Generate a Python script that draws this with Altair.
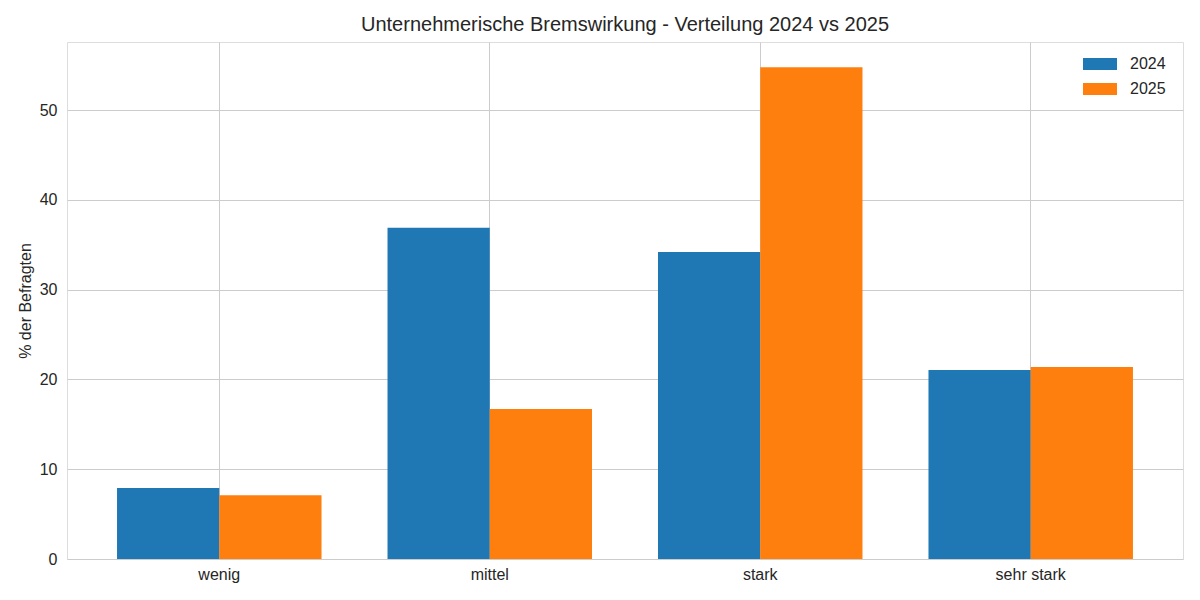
import altair as alt
import pandas as pd

categories = ["wenig", "mittel", "stark", "sehr stark"]
years = ["2024", "2025"]
values_2024 = [7.9, 36.9, 34.2, 21.05]
values_2025 = [7.1, 16.7, 54.8, 21.4]
y_ticks = [0, 10, 20, 30, 40, 50]

rows = []
for c, a, b in zip(categories, values_2024, values_2025):
    rows.append({"cat": c, "year": "2024", "val": a})
    rows.append({"cat": c, "year": "2025", "val": b})
df = pd.DataFrame(rows)

FONT = "Liberation Sans"
TXT = "#262626"
GRID = "#cccccc"

chart = alt.Chart(df).mark_bar().encode(
    x=alt.X("cat:N", sort=categories,
            scale=alt.Scale(paddingInner=0.244, paddingOuter=0.185),
            axis=alt.Axis(title=None, labelAngle=0, labelFontSize=16, labelColor=TXT,
                          labelFont=FONT, ticks=False, domain=False, grid=True,
                          gridColor=GRID, gridWidth=1, bandPosition=0.5, labelPadding=7)),
    xOffset=alt.XOffset("year:N", sort=years, scale=alt.Scale(paddingInner=0, paddingOuter=0)),
    y=alt.Y("val:Q", scale=alt.Scale(domain=[0, 57.6], nice=False, zero=True),
            axis=alt.Axis(title="% der Befragten", values=y_ticks, labelFontSize=16,
                          labelColor=TXT, labelFont=FONT, titleFont=FONT, titleFontSize=16,
                          titleColor=TXT, titleFontWeight="normal", ticks=False, domain=False,
                          grid=True, gridColor=GRID, gridWidth=1, labelPadding=10,
                          titlePadding=6)),
    color=alt.Color("year:N", sort=years,
                    scale=alt.Scale(domain=years, range=["#1f77b4", "#ff7f0e"]),
                    legend=alt.Legend(title=None, orient="none", legendX=1016, legendY=5,
                                      labelFontSize=16, labelFont=FONT, labelColor=TXT,
                                      symbolType="M-1,-0.35L1,-0.35L1,0.35L-1,0.35Z",
                                      symbolSize=1156, symbolStrokeWidth=0,
                                      symbolOpacity=1, rowPadding=0, labelOffset=13)),
).properties(
    width=1116, height=517,
    title=alt.TitleParams("Unternehmerische Bremswirkung - Verteilung 2024 vs 2025",
                          fontSize=20, font=FONT, color=TXT, fontWeight="normal",
                          anchor="middle", offset=7),
    autosize=alt.AutoSizeParams(type="none"),
    padding={"left": 59, "top": 34, "right": 9, "bottom": 40},
).configure_view(stroke=GRID, strokeWidth=1.25).configure(background="white")

chart.save("out.html", embed_options={"renderer": "svg", "actions": False})
